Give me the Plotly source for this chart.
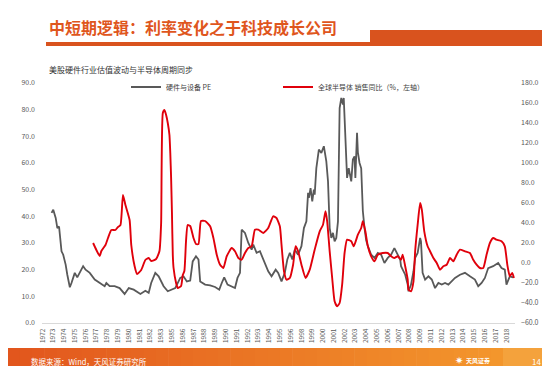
import plotly.graph_objects as go
import pandas as pd

# ---------------- data ----------------
year_labels = ["1972", "1973", "1974", "1975", "1976", "1977", "1978", "1979", "1980", "1981",
               "1982", "1983", "1985", "1986", "1987", "1988", "1989", "1990", "1991", "1992",
               "1993", "1994", "1995", "1996", "1998", "1999", "2000", "2001", "2002", "2003",
               "2004", "2005", "2006", "2007", "2008", "2009", "2011", "2012", "2013", "2014",
               "2015", "2016", "2017", "2018"]

gray_months = ["1972-12", "1973-02", "1973-05", "1973-07", "1973-09", "1973-10", "1973-12", "1974-02",
               "1974-05", "1974-07", "1974-10", "1974-12", "1975-02", "1975-04", "1975-07", "1975-10",
               "1976-02", "1976-05", "1976-10", "1977-04", "1977-10", "1978-04", "1978-06", "1978-10",
               "1979-04", "1979-10", "1980-04", "1980-09", "1981-03", "1981-11", "1982-05", "1982-09",
               "1982-12", "1983-05", "1983-09", "1984-03", "1984-08", "1985-01", "1985-05", "1985-11",
               "1986-03", "1986-07", "1986-11", "1987-02", "1987-06", "1987-09", "1987-11", "1988-05",
               "1988-11", "1989-05", "1989-10", "1990-01", "1990-04", "1990-08", "1991-01", "1991-05",
               "1991-08", "1991-11", "1992-01", "1992-05", "1992-09", "1993-01", "1993-03", "1993-07",
               "1993-11", "1994-03", "1994-09", "1995-01", "1995-06", "1995-09", "1996-01", "1996-05",
               "1996-08", "1996-11", "1997-02", "1997-05", "1997-09", "1998-01", "1998-04", "1998-07",
               "1998-09", "1998-10", "1998-12", "1999-02", "1999-04", "1999-05", "1999-07", "1999-10",
               "2000-01", "2000-04", "2000-07", "2000-09", "2000-11", "2001-01", "2001-03", "2001-05",
               "2001-07", "2001-09", "2001-10", "2001-11", "2002-01", "2002-03", "2002-04", "2002-06",
               "2002-08", "2002-10", "2003-01", "2003-03", "2003-05", "2003-06", "2003-07", "2003-08",
               "2003-09", "2003-11", "2004-01", "2004-02", "2004-03", "2004-05", "2004-07", "2004-09",
               "2005-01", "2005-05", "2005-09", "2006-01", "2006-05", "2006-09", "2007-01", "2007-05",
               "2007-07", "2007-12", "2008-01", "2008-06", "2008-09", "2008-10", "2009-01", "2009-04",
               "2009-06", "2009-09", "2009-12", "2010-01", "2010-03", "2010-06", "2010-10", "2011-02",
               "2011-06", "2011-10", "2012-02", "2012-06", "2012-10", "2013-02", "2013-06", "2013-12",
               "2014-06", "2014-12", "2015-06", "2015-10", "2016-02", "2016-06", "2016-10", "2017-04",
               "2017-10", "2018-02", "2018-06", "2018-08", "2018-12", "2019-04"]
gray_pe = [41.3, 42.5, 39.4, 35.6, 36.2, 31.9, 26.9, 25.6,
           21.9, 18.1, 13.4, 15.0, 16.9, 18.8, 17.1, 18.8,
           21.3, 20.0, 18.8, 16.3, 15.0, 13.8, 15.0, 13.8,
           13.8, 13.1, 10.9, 13.1, 12.5, 10.9, 12.1, 11.3,
           15.0, 18.8, 17.5, 13.8, 11.9, 12.5, 13.1, 16.9,
           17.5, 15.6, 15.9, 23.1, 25.0, 23.8, 15.6, 14.4,
           14.1, 13.5, 12.5, 15.0, 17.1, 14.4, 13.8, 13.1,
           16.9, 18.8, 35.0, 33.8, 30.0, 27.5, 29.4, 26.3,
           26.9, 23.8, 19.4, 17.5, 20.0, 18.8, 15.6, 18.8,
           23.8, 26.3, 23.8, 27.5, 25.6, 28.8, 35.6, 38.1,
           48.8, 46.9, 50.6, 45.6, 50.0, 48.1, 58.1, 65.0,
           63.8, 66.3, 60.6, 53.1, 35.6, 31.9, 33.8, 30.6,
           31.9, 38.1, 55.0, 80.6, 84.4, 81.9, 84.4, 70.6,
           54.4, 58.1, 53.1, 61.3, 62.5, 54.4, 62.0, 71.3,
           64.0, 60.0, 58.0, 50.0, 42.0, 35.6, 31.0, 28.8,
           25.6, 24.4, 26.3, 25.6, 22.5, 24.4, 25.6, 28.1,
           26.9, 23.8, 21.3, 18.1, 14.4, 11.9, 14.4, 19.4,
           24.4, 26.3, 31.9, 30.6, 18.8, 16.3, 17.5, 16.3,
           13.1, 15.0, 14.4, 15.0, 14.4, 15.6, 16.9, 18.1,
           18.8, 17.5, 16.3, 13.8, 15.0, 16.9, 20.6, 21.3,
           22.5, 20.6, 20.0, 14.4, 17.5, 17.1]

semi_months = ["1977-02", "1977-06", "1977-10", "1977-12", "1978-05", "1978-08", "1978-12", "1979-05",
               "1979-08", "1979-11", "1980-02", "1980-05", "1980-10", "1980-12", "1981-04", "1981-07",
               "1981-12", "1982-05", "1982-09", "1982-12", "1983-06", "1983-10", "1983-12", "1984-02",
               "1984-04", "1984-06", "1984-08", "1984-10", "1984-11", "1984-12", "1985-01", "1985-02",
               "1985-03", "1985-06", "1985-08", "1985-12", "1986-02", "1986-04", "1986-06", "1986-08",
               "1986-11", "1987-03", "1987-06", "1987-09", "1987-12", "1988-05", "1988-11", "1989-03",
               "1989-07", "1989-11", "1990-03", "1990-07", "1991-01", "1991-05", "1991-09", "1992-01",
               "1992-05", "1992-09", "1993-01", "1993-05", "1993-09", "1994-03", "1994-09", "1995-03",
               "1995-07", "1995-11", "1996-01", "1996-04", "1996-07", "1996-11", "1997-03", "1997-06",
               "1997-09", "1998-01", "1998-06", "1998-11", "1999-05", "1999-11", "2000-03", "2000-06",
               "2000-08", "2000-11", "2001-02", "2001-05", "2001-08", "2001-11", "2002-02", "2002-05",
               "2002-08", "2003-01", "2003-04", "2003-09", "2004-01", "2004-03", "2004-06", "2004-09",
               "2005-01", "2005-05", "2005-09", "2006-03", "2006-09", "2007-01", "2007-05", "2007-09",
               "2008-01", "2008-03", "2008-06", "2008-09", "2008-10", "2009-01", "2009-04", "2009-06",
               "2009-09", "2009-12", "2010-02", "2010-05", "2010-09", "2010-11", "2011-04", "2011-08",
               "2011-12", "2012-04", "2012-08", "2012-12", "2013-04", "2013-08", "2013-12", "2014-06",
               "2014-12", "2015-04", "2015-08", "2015-12", "2016-04", "2016-08", "2016-12", "2017-04",
               "2017-08", "2018-02", "2018-06", "2018-09", "2018-12", "2019-03", "2019-05"]
semi_yoy = [20, 13, 7, 12, 18, 25, 33, 33,
            36, 38, 68, 58, 43, 18, -3, -11,
            -7, 3, 5, 2, 4, 12, 40, 150,
            153, 148, 140, 128, 110, 85, 50, 8,
            -5, -20, -25, -23, -12, -8, 22, 38,
            37, 25, 19, 19, 42, 42, 36.7, 25,
            8.3, -1.7, -5, 6.7, 15, 11.7, 5, 3.3,
            10, 15, 16.7, 33.3, 33.3, 30, 35, 46.7,
            45, 36.7, 18.3, -8.3, -16.7, -15, -1.7, 16.7,
            11.7, -1.7, -15, -6.7, 13.3, 31.7, 38.3, 51.7,
            41.7, 11.7, -15, -38.3, -43.3, -40, -21.7, 10,
            23.3, 21.7, 16.7, 28.3, 35, 41.7, 31.7, 16.7,
            6.7, 1.7, 8.3, 10, 10, 6.7, 5, 6.7,
            3.3, 8.3, -3.3, -16.7, -26.7, -28.3, -18.3, 11.7,
            38.3, 60, 53.3, 31.7, 16.7, 13.3, 5, 0,
            -6.7, -3.3, -1.7, 5, 1.7, 8.3, 13.3, 11.7,
            10, 3.3, -1.7, -5, -5, 8.3, 20, 25,
            23.3, 21.7, 16.7, -1.7, -13.3, -10, -15]

# ---------------- layout helpers ----------------
W, H = 550, 366
L, R, T, B = 34, 507, 75, 315
FONT = "Noto Sans CJK SC, Noto Sans, sans-serif"


def px(x):
    return (x - L) / (R - L)


def py(y):
    return (B - y) / (B - T)


tickvals = [(pd.Timestamp("1972-01-01") + pd.DateOffset(months=13 * i)).strftime("%Y-%m-%d")
            for i in range(len(year_labels))]

fig = go.Figure()
fig.add_trace(go.Scatter(x=gray_months, y=gray_pe, name="硬件与设备 PE", mode="lines",
                         line=dict(color="#595959", width=1.8), yaxis="y"))
fig.add_trace(go.Scatter(x=semi_months, y=semi_yoy, name="全球半导体 销售同比（%，左轴）", mode="lines",
                         line=dict(color="#E0000B", width=1.9, shape="spline", smoothing=0.5),
                         yaxis="y2"))

shapes = []
# title underline + bar
shapes.append(dict(type="rect", xref="paper", yref="paper", x0=px(38), x1=px(363), y0=py(38), y1=py(34),
                   fillcolor="#D9531E", line=dict(width=0), layer="above"))
shapes.append(dict(type="rect", xref="paper", yref="paper", x0=px(362), x1=px(551), y0=py(38), y1=py(22),
                   fillcolor="#D9531E", line=dict(width=0), layer="above"))
# footer gradient bar
c0 = (226, 86, 29)
c1 = (243, 150, 44)
n = 40
x_end = 495
for i in range(n):
    t = i / (n - 1)
    col = tuple(int(round(c0[k] + (c1[k] - c0[k]) * t)) for k in range(3))
    xa = -1 + (x_end + 1) * i / n
    xb = -1 + (x_end + 1) * (i + 1) / n + 0.6
    shapes.append(dict(type="rect", xref="paper", yref="paper", x0=px(xa), x1=px(xb),
                       y0=py(367), y1=py(340), fillcolor="rgb(%d,%d,%d)" % col,
                       line=dict(width=0), layer="below"))
shapes.append(dict(type="rect", xref="paper", yref="paper", x0=px(x_end), x1=px(551),
                   y0=py(367), y1=py(340), fillcolor="#F4A23C", line=dict(width=0), layer="below"))

annotations = [
    dict(text="<b>中短期逻辑：利率变化之于科技成长公司</b>", x=px(39), y=py(19), xref="paper", yref="paper",
         xanchor="left", yanchor="middle", showarrow=False,
         font=dict(family=FONT, size=16, color="#DF561D")),
    dict(text="美股硬件行业估值波动与半导体周期同步", x=px(39), y=py(62), xref="paper", yref="paper",
         xanchor="left", yanchor="middle", showarrow=False,
         font=dict(family=FONT, size=8, color="#333333")),
    dict(text="数据来源：Wind，天风证券研究所", x=px(21), y=py(353), xref="paper", yref="paper",
         xanchor="left", yanchor="middle", showarrow=False,
         font=dict(family=FONT, size=7.5, color="#FFFFFF")),
    dict(text="<b>天风证券</b>", x=px(456), y=py(352), xref="paper", yref="paper",
         xanchor="left", yanchor="middle", showarrow=False,
         font=dict(family=FONT, size=6, color="#FFFFFF")),
    dict(text="✷", x=px(451), y=py(352), xref="paper", yref="paper",
         xanchor="center", yanchor="middle", showarrow=False,
         font=dict(family="DejaVu Sans", size=10, color="#FFFFFF")),
    dict(text="14", x=px(528), y=py(353), xref="paper", yref="paper",
         xanchor="center", yanchor="middle", showarrow=False,
         font=dict(family=FONT, size=8, color="#FFFFFF")),
]

y_tick_font = dict(family=FONT, size=7, color="#595959")
x_tick_font = dict(family=FONT, size=6.5, color="#595959")

fig.update_layout(
    width=W, height=H,
    margin=dict(l=L, r=W - R, t=T, b=H - B, pad=0),
    paper_bgcolor="#FFFFFF", plot_bgcolor="#FFFFFF",
    font=dict(family=FONT),
    showlegend=True,
    legend=dict(orientation="h", x=px(118), xanchor="left", y=py(79), yanchor="middle",
                entrywidth=107, entrywidthmode="pixels", itemwidth=30,
                font=dict(family=FONT, size=7, color="#404040"), bgcolor="rgba(0,0,0,0)"),
    xaxis=dict(type="date", range=["1971-12-16", "2019-06-10"], tickmode="array",
               tickvals=tickvals, ticktext=year_labels, tickangle=-90, tickfont=x_tick_font,
               showgrid=False, zeroline=False, showline=True, linecolor="#D9D9D9", linewidth=1,
               ticks="", ticklabelstandoff=2),
    yaxis=dict(range=[0, 90], dtick=10, tickformat=".1f", tickfont=y_tick_font, showgrid=False,
               zeroline=False, showline=False, ticks="", ticklabelstandoff=6),
    yaxis2=dict(range=[-60, 180], dtick=20, tickformat=".1f", tickfont=y_tick_font, showgrid=False,
                zeroline=False, showline=False, ticks="", overlaying="y", side="right",
                ticklabelstandoff=5),
    shapes=shapes,
    annotations=annotations,
)

fig.write_html("out.html")
